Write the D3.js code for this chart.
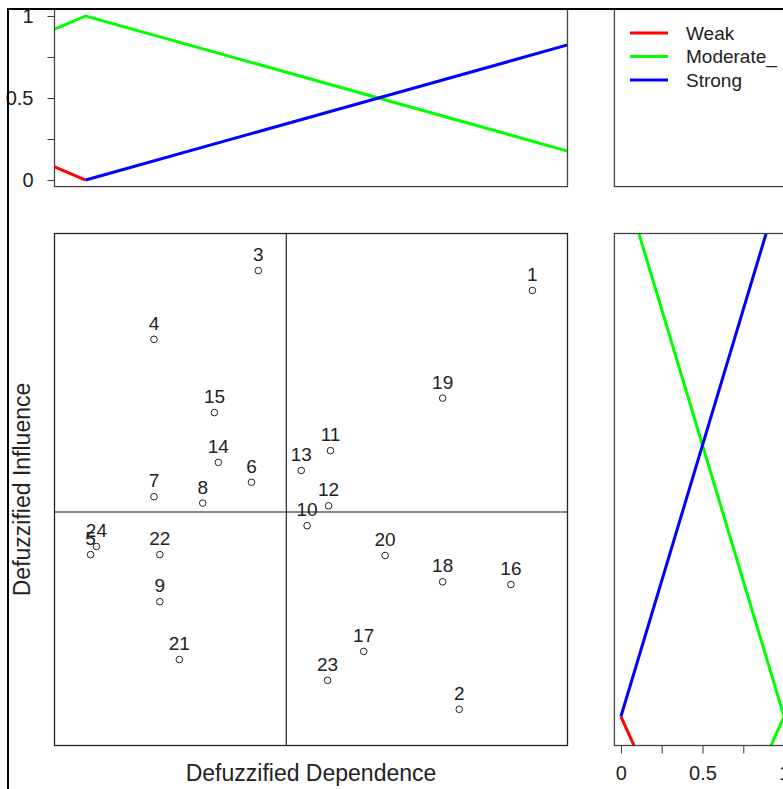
<!DOCTYPE html>
<html>
<head>
<meta charset="utf-8">
<script src="https://cdn.jsdelivr.net/npm/d3@7"></script>
<style>
  html, body { margin: 0; padding: 0; background: #fff; }
  svg { display: block; font-family: 'Liberation Sans', Arial, sans-serif; }
</style>
</head>
<body>
<div id="chart"></div>
<script>
// factors (point ids) with defuzzified dependence (x) and influence (y)
const factorIds = [1, 2, 3, 4, 5, 6, 7, 8, 9, 10, 11, 12, 13, 14, 15, 16, 17, 18, 19, 20, 21, 22, 23, 24];
const dependence = [0.858, 0.783, 0.577, 0.470, 0.405, 0.570, 0.470, 0.520, 0.476, 0.627, 0.651, 0.649,
  0.621, 0.536, 0.532, 0.836, 0.685, 0.766, 0.766, 0.707, 0.496, 0.476, 0.648, 0.411];
const influence = [0.871, 0.408, 0.893, 0.817, 0.579, 0.659, 0.643, 0.636, 0.527, 0.611, 0.694, 0.633,
  0.672, 0.681, 0.736, 0.546, 0.472, 0.549, 0.752, 0.578, 0.463, 0.579, 0.440, 0.588];

// membership functions (breakpoints and grades)
const mfNames = ['Weak', 'Moderate_', 'Strong'];
const mfColors = ['#ff0000', '#00ff00', '#0000ff'];
const weakX = [0, 0.4];
const weakY = [1, 0];
const moderateX = [0, 0.4, 1];
const moderateY = [0, 1, 0];
const strongX = [0.4, 1];
const strongY = [0, 1];

const gradeTicks = [0, 0.25, 0.5, 0.75, 1];
const dependenceLim = [0.368, 0.894];
const influenceLim = [0.368, 0.934];

const width = 783;
const height = 789;

const mfs = [[weakX, weakY], [moderateX, moderateY], [strongX, strongY]]
  .map(([xs, ys], i) => ({name: mfNames[i], color: mfColors[i], pts: xs.map((v, j) => [v, ys[j]])}));

const svg = d3.select('#chart').append('svg')
  .attr('width', width)
  .attr('height', height);

// plot regions
const mainR = {x0: 54.5, x1: 567.5, y0: 233.5, y1: 745.5};
const topR = {x0: 54.5, x1: 567.5, y0: 9.4, y1: 186.6};
const sideR = {x0: 614.4, x1: 790.6, y0: 233.5, y1: 745.5};
const legR = {x0: 614.4, x1: 790.6, y0: 9.4, y1: 186.6};

const x = d3.scaleLinear().domain(dependenceLim).range([mainR.x0, mainR.x1]);
const y = d3.scaleLinear().domain(influenceLim).range([mainR.y1, mainR.y0]);
const gradeY = d3.scaleLinear().domain([-0.04, 1.04]).range([topR.y1, topR.y0]);
const gradeX = d3.scaleLinear().domain([-0.04, 1.04]).range([sideR.x0, sideR.x1]);

const defs = svg.append('defs');
function clip(id, r) {
  defs.append('clipPath').attr('id', id)
    .append('rect').attr('x', r.x0).attr('y', r.y0).attr('width', r.x1 - r.x0).attr('height', r.y1 - r.y0);
  return `url(#${id})`;
}

function box(r, stroke) {
  svg.append('rect')
    .attr('x', r.x0).attr('y', r.y0)
    .attr('width', r.x1 - r.x0).attr('height', r.y1 - r.y0)
    .attr('fill', 'none')
    .attr('stroke', stroke)
    .attr('stroke-width', 1.3);
}

const tickLabel = (d) => (d * 2) % 1 === 0 ? String(d) : '';

// --- top: membership grade vs dependence
const topLine = d3.line().x((d) => x(d[0])).y((d) => gradeY(d[1]));
svg.append('g')
  .attr('clip-path', clip('clipTop', topR))
  .selectAll('path')
  .data(mfs)
  .join('path')
  .attr('d', (d) => topLine(d.pts))
  .attr('fill', 'none')
  .attr('stroke', (d) => d.color)
  .attr('stroke-width', 3);

const axLeft = svg.append('g')
  .attr('transform', `translate(${topR.x0},0)`)
  .call(d3.axisLeft(gradeY).tickValues(gradeTicks).tickFormat(tickLabel)
    .tickSize(7).tickSizeOuter(0).tickPadding(14));
axLeft.select('.domain').remove();
axLeft.selectAll('line').attr('stroke', '#333');
axLeft.selectAll('text').attr('font-size', 20).attr('fill', '#222');
axLeft.attr('font-family', null);
box(topR, '#444');

// --- legend
box(legR, '#444');
const lg = svg.append('g')
  .selectAll('g')
  .data(mfs)
  .join('g')
  .attr('transform', (d, i) => `translate(0,${33 + i * 23.5})`);
lg.append('line')
  .attr('x1', 630).attr('x2', 668)
  .attr('stroke', (d) => d.color)
  .attr('stroke-width', 3);
lg.append('text')
  .attr('x', 686)
  .attr('dy', '0.35em')
  .attr('font-size', 19)
  .attr('fill', '#222')
  .text((d) => d.name);

// --- main scatter
const pts = factorIds.map((id, i) => ({id, dep: dependence[i], inf: influence[i]}));
const meanDep = d3.mean(dependence);
const meanInf = d3.mean(influence);

svg.append('line')
  .attr('x1', x(meanDep)).attr('x2', x(meanDep))
  .attr('y1', mainR.y0).attr('y2', mainR.y1)
  .attr('stroke', '#111').attr('stroke-width', 1.1);
svg.append('line')
  .attr('x1', mainR.x0).attr('x2', mainR.x1)
  .attr('y1', y(meanInf)).attr('y2', y(meanInf))
  .attr('stroke', '#111').attr('stroke-width', 1.1);

svg.append('g')
  .selectAll('circle')
  .data(pts)
  .join('circle')
  .attr('cx', (d) => x(d.dep))
  .attr('cy', (d) => y(d.inf))
  .attr('r', 3.3)
  .attr('fill', 'none')
  .attr('stroke', '#222')
  .attr('stroke-width', 1);

svg.append('g')
  .selectAll('text')
  .data(pts)
  .join('text')
  .attr('x', (d) => x(d.dep))
  .attr('y', (d) => y(d.inf) - 16)
  .attr('dy', '0.35em')
  .attr('text-anchor', 'middle')
  .attr('font-size', 19)
  .attr('fill', '#222')
  .text((d) => d.id);

box(mainR, '#222');

svg.append('text')
  .attr('x', (mainR.x0 + mainR.x1) / 2)
  .attr('y', 773)
  .attr('dy', '0.35em')
  .attr('text-anchor', 'middle')
  .attr('font-size', 23)
  .attr('fill', '#222')
  .text('Defuzzified Dependence');

svg.append('text')
  .attr('transform', `translate(22,${(mainR.y0 + mainR.y1) / 2}) rotate(-90)`)
  .attr('dy', '0.35em')
  .attr('text-anchor', 'middle')
  .attr('font-size', 23)
  .attr('fill', '#222')
  .text('Defuzzified Influence');

// --- right: influence vs membership grade
const sideLine = d3.line().x((d) => gradeX(d[1])).y((d) => y(d[0]));
svg.append('g')
  .attr('clip-path', clip('clipSide', sideR))
  .selectAll('path')
  .data(mfs)
  .join('path')
  .attr('d', (d) => sideLine(d.pts))
  .attr('fill', 'none')
  .attr('stroke', (d) => d.color)
  .attr('stroke-width', 3);

const axBottom = svg.append('g')
  .attr('transform', `translate(0,${sideR.y1})`)
  .call(d3.axisBottom(gradeX).tickValues(gradeTicks).tickFormat(tickLabel)
    .tickSize(8).tickSizeOuter(0).tickPadding(12));
axBottom.select('.domain').remove();
axBottom.selectAll('line').attr('stroke', '#333');
axBottom.selectAll('text').attr('font-size', 20).attr('fill', '#222');
axBottom.attr('font-family', null);
box(sideR, '#444');

// outer frame
svg.append('rect')
  .attr('x', 8).attr('y', 9)
  .attr('width', 820).attr('height', 820)
  .attr('fill', 'none')
  .attr('stroke', '#000')
  .attr('stroke-width', 2);
</script>
</body>
</html>
